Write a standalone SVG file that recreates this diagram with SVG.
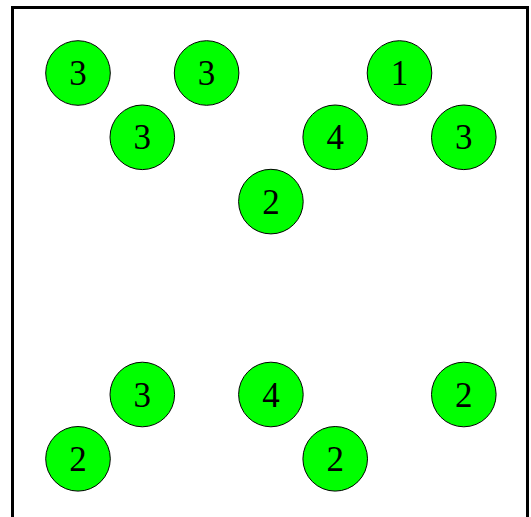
<svg xmlns="http://www.w3.org/2000/svg" width="531" height="517" viewBox="0 0 531 517">
<style>
.n circle{fill:#00ff00;stroke:#000;stroke-width:1}
.n text{font-family:"Liberation Serif","DejaVu Serif",serif;font-size:35px;text-anchor:middle;fill:#000}
</style>
<rect x="0" y="0" width="531" height="517" fill="#fff"/>
<path d="M12.5 530 V7.5 H527.5 V530" fill="none" stroke="#000" stroke-width="3"/>
<g id="connectors"></g>
<g id="n1" class="n"><circle cx="78" cy="73" r="32.3"/><text x="78" y="85">3</text></g>
<g id="n2" class="n"><circle cx="206.6" cy="73" r="32.3"/><text x="206.6" y="85">3</text></g>
<g id="n3" class="n"><circle cx="399.5" cy="73" r="32.3"/><text x="399.5" y="85">1</text></g>
<g id="n4" class="n"><circle cx="142.3" cy="137.3" r="32.3"/><text x="142.3" y="149.3">3</text></g>
<g id="n5" class="n"><circle cx="335.2" cy="137.3" r="32.3"/><text x="335.2" y="149.3">4</text></g>
<g id="n6" class="n"><circle cx="463.8" cy="137.3" r="32.3"/><text x="463.8" y="149.3">3</text></g>
<g id="n7" class="n"><circle cx="270.9" cy="201.6" r="32.3"/><text x="270.9" y="213.6">2</text></g>
<g id="n8" class="n"><circle cx="142.3" cy="394.5" r="32.3"/><text x="142.3" y="406.5">3</text></g>
<g id="n9" class="n"><circle cx="270.9" cy="394.5" r="32.3"/><text x="270.9" y="406.5">4</text></g>
<g id="n10" class="n"><circle cx="463.8" cy="394.5" r="32.3"/><text x="463.8" y="406.5">2</text></g>
<g id="n11" class="n"><circle cx="78" cy="458.8" r="32.3"/><text x="78" y="470.8">2</text></g>
<g id="n12" class="n"><circle cx="335.2" cy="458.8" r="32.3"/><text x="335.2" y="470.8">2</text></g>
</svg>
